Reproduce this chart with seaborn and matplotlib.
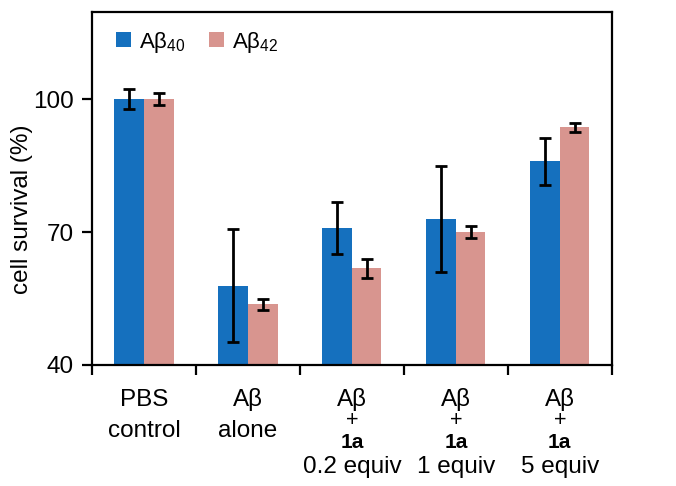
#%% ---- Load Packages ----
import pandas as pd
import numpy as np
import matplotlib
matplotlib.use("Agg")
import matplotlib.pyplot as plt
import seaborn as sns

# %% ---- Data ----
groups = ["PBS control", "Abeta alone", "Abeta + 1a 0.2", "Abeta + 1a 1", "Abeta + 1a 5"]
series = ["Aβ$_{40}$", "Aβ$_{42}$"]
ab40_mean = [100.0, 57.9, 70.9, 72.9, 86.0]
ab40_err = [2.3, 12.7, 5.9, 12.0, 5.3]
ab42_mean = [100.0, 53.7, 61.8, 70.0, 93.6]
ab42_err = [1.4, 1.2, 2.2, 1.3, 1.0]

label_line1 = ["PBS", "Aβ", "Aβ", "Aβ", "Aβ"]
label_line2 = ["control", "alone", "", "", ""]
label_plus = ["", "", "+", "+", "+"]
label_cmpd = ["", "", "1a", "1a", "1a"]
label_equiv = ["", "", "0.2 equiv", "1 equiv", "5 equiv"]

colors = ["#1570be", "#d8958f"]

# %% ---- Data wrangling ----
df = pd.DataFrame({
    "group": groups * 2,
    "series": [series[0]] * 5 + [series[1]] * 5,
    "survival": ab40_mean + ab42_mean,
    "err": ab40_err + ab42_err,
})

# %% ---- Plot ----
sns.set_style("ticks")
plt.rcParams["font.family"] = ["Liberation Sans", "DejaVu Sans"]
plt.rcParams["mathtext.fontset"] = "custom"
plt.rcParams["mathtext.rm"] = "Liberation Sans"
plt.rcParams["mathtext.it"] = "Liberation Sans"
for k in ["text.color", "axes.labelcolor", "xtick.color", "ytick.color",
          "axes.edgecolor"]:
    plt.rcParams[k] = "black"

fs = 17.5
fig = plt.figure(figsize=(6.76, 4.86), dpi=100)
ax = fig.add_axes([0.136, 0.249, 0.769, 0.726])

sns.barplot(data=df, x="group", y="survival", hue="series", palette=colors,
            width=0.57, errorbar=None, saturation=1, linewidth=0,
            edgecolor="none", ax=ax)

# error bars on top of each bar
for cont, errs in zip(ax.containers, [ab40_err, ab42_err]):
    xs = [p.get_x() + p.get_width() / 2 for p in cont.patches]
    ys = [p.get_height() for p in cont.patches]
    ax.errorbar(xs, ys, yerr=errs, fmt="none", ecolor="black",
                elinewidth=2.0, capsize=4.6, capthick=2.0)

ax.set_ylim(40, 119.6)
ax.set_xlim(-0.5, 4.5)
ax.set_yticks([40, 70, 100])
ax.set_xticks(np.arange(-0.5, 5, 1))
ax.set_xticklabels([])
ax.tick_params(axis="y", labelsize=fs, width=1.6, length=7.2, pad=6,
               direction="out")
ax.tick_params(axis="x", width=1.6, length=7.2, direction="out")
for s in ax.spines.values():
    s.set_linewidth(1.6)
    s.set_visible(True)
ax.set_xlabel("")
ax.set_ylabel("cell survival (%)", fontsize=fs)
ax.yaxis.set_label_coords(-0.113, 0.44)

# multi-line category labels with bold compound name
for i in range(len(groups)):
    rows = [(label_line1[i], -29.5, "baseline", "normal", fs),
            (label_line2[i], -52, "baseline", "normal", fs),
            (label_plus[i], -40, "center", "light", fs - 2),
            (label_cmpd[i], -59.5, "baseline", "bold", 15),
            (label_equiv[i], -77.5, "baseline", "normal", fs)]
    for txt, off, va, weight, size in rows:
        if not txt:
            continue
        ax.annotate(txt, xy=(i, 0), xycoords=("data", "axes fraction"),
                    xytext=(0, off), textcoords="offset points",
                    ha="center", va=va, fontsize=size, fontweight=weight)

leg = ax.legend(loc="center left", ncol=2, frameon=False, fontsize=16,
                handlelength=0.68, handleheight=0.68, handletextpad=0.36,
                columnspacing=1.05, borderpad=0, borderaxespad=0,
                bbox_to_anchor=(0.046, 0.915))

fig.savefig("out.png", dpi=100)
